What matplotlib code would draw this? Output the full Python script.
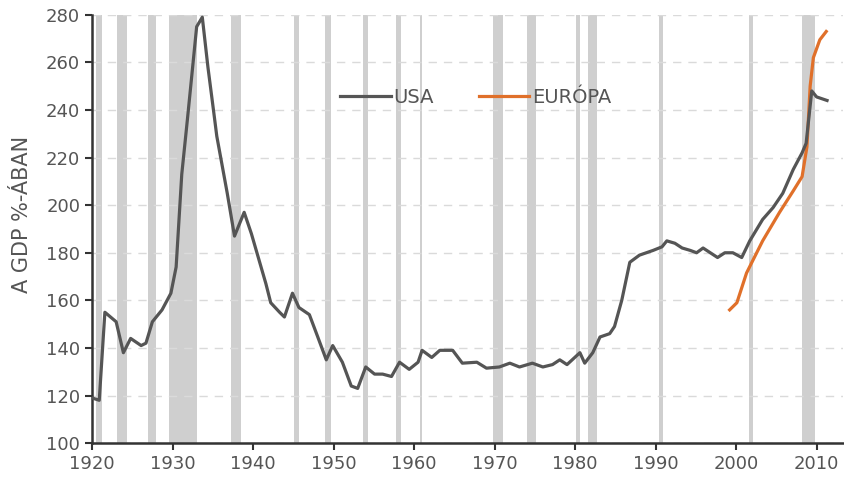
import matplotlib.pyplot as plt

# USA debt / GDP (%)
usa_years = [1920, 1920.9, 1921.6, 1923.0, 1923.9, 1924.8, 1926.1, 1926.7, 1927.5, 1928.7,
             1929.8, 1930.45, 1931.15, 1931.85, 1932.5, 1933.0, 1933.7, 1934.4, 1935.2, 1935.5,
             1936.8, 1937.7, 1938.9, 1939.8, 1940.4, 1941.6, 1942.2, 1943.3, 1943.9, 1944.9,
             1945.7, 1947.0, 1948.0, 1949.1, 1949.9, 1951.1, 1952.2, 1953.0, 1954.0, 1955.1,
             1956.1, 1957.2, 1958.2, 1959.4, 1960.5, 1961.0, 1962.2, 1963.2, 1964.8, 1966.0,
             1967.8, 1969.0, 1970.6, 1971.9, 1973.1, 1974.7, 1976.0, 1977.2, 1978.1, 1979.0,
             1980.6, 1981.2, 1982.2, 1983.1, 1984.3, 1984.9, 1985.8, 1986.8, 1988.0, 1989.7,
             1990.8, 1991.4, 1992.4, 1993.3, 1994.3, 1995.1, 1995.9, 1996.8, 1997.7, 1998.6,
             1999.6, 2000.7, 2001.7, 2003.3, 2004.6, 2005.8, 2007.1, 2008.2, 2008.7, 2009.4,
             2010.0, 2011.3]
usa_vals = [119, 118, 155, 151, 138, 144, 141, 142, 151, 156,
            163, 174, 213, 236, 258, 275, 279, 258, 237, 229,
            205, 187, 197, 188, 181, 167, 159, 155, 153, 163,
            157, 154, 145, 135, 141, 134, 124, 123, 132, 129,
            129, 128, 134, 131, 134, 139, 136, 139, 139, 133.6,
            134, 131.5, 132, 133.6, 132, 133.6, 132, 133, 135, 133,
            138, 133.6, 138, 144.6, 146, 149, 160, 176, 179, 181,
            182.5, 185, 184, 182, 181, 180, 182, 180, 178, 180,
            180, 178, 185, 194, 199, 205, 215, 222, 226, 248,
            245.5, 244]

# Europe debt / GDP (%)
eu_years = [1999.2, 2000.1, 2001.3, 2003.3, 2005.4, 2007.1, 2008.2, 2008.8, 2009.2, 2009.6,
            2010.4, 2011.2]
eu_vals = [156, 159, 171.5, 185, 197, 206, 212, 224.5, 250, 262,
           269.5, 273]

# recession periods (start, end)
recessions = [(1920.5, 1921.25), (1923.1, 1924.35), (1927.0, 1928.0), (1929.6, 1933.1),
              (1937.3, 1938.5), (1945.1, 1945.75), (1948.9, 1949.7), (1953.6, 1954.3),
              (1957.7, 1958.4), (1960.7, 1961.0), (1969.75, 1971.0), (1974.0, 1975.2),
              (1980.1, 1980.6), (1981.6, 1982.7), (1990.4, 1990.9), (2001.6, 2002.1),
              (2008.2, 2009.8)]

x_ticks = [1920, 1930, 1940, 1950, 1960, 1970, 1980, 1990, 2000, 2010]
y_ticks = [100, 120, 140, 160, 180, 200, 220, 240, 260, 280]

plt.rcParams['font.family'] = ['DejaVu Sans']

fig = plt.figure(figsize=(8.44, 4.94), dpi=100)
ax = fig.add_axes([0.109, 0.103, 0.89, 0.867])

for start, end in recessions:
    ax.axvspan(start, end, color='#cfcfcf', lw=0, zorder=0)

ax.set_axisbelow(True)
ax.yaxis.grid(True, color='#dadada', linestyle=(0, (6, 5)), linewidth=1)

ax.plot(usa_years, usa_vals, color='#555555', lw=2.3, label='USA', zorder=3)
ax.plot(eu_years, eu_vals, color='#e0702a', lw=2.3, label='EURÓPA', zorder=2)

ax.set_xlim(1920, 2013.3)
ax.set_ylim(100, 280)
ax.set_xticks(x_ticks)
ax.set_yticks(y_ticks)
ax.tick_params(labelsize=13, labelcolor='#555555', color='#333333', length=5, width=1.5)
ax.set_ylabel('A GDP %-ÁBAN', fontsize=15, color='#555555')
ax.yaxis.set_label_coords(-0.080, 0.535)

for side in ['top', 'right']:
    ax.spines[side].set_visible(False)
for side in ['left', 'bottom']:
    ax.spines[side].set_color('#333333')
    ax.spines[side].set_linewidth(1.8)

leg = ax.legend(loc='center', bbox_to_anchor=(0.511, 0.808), ncol=2, frameon=False,
                fontsize=14, handlelength=2.6, handletextpad=0.15, columnspacing=2.3)
for t in leg.get_texts():
    t.set_color('#555555')

fig.savefig('out.png', dpi=100)
